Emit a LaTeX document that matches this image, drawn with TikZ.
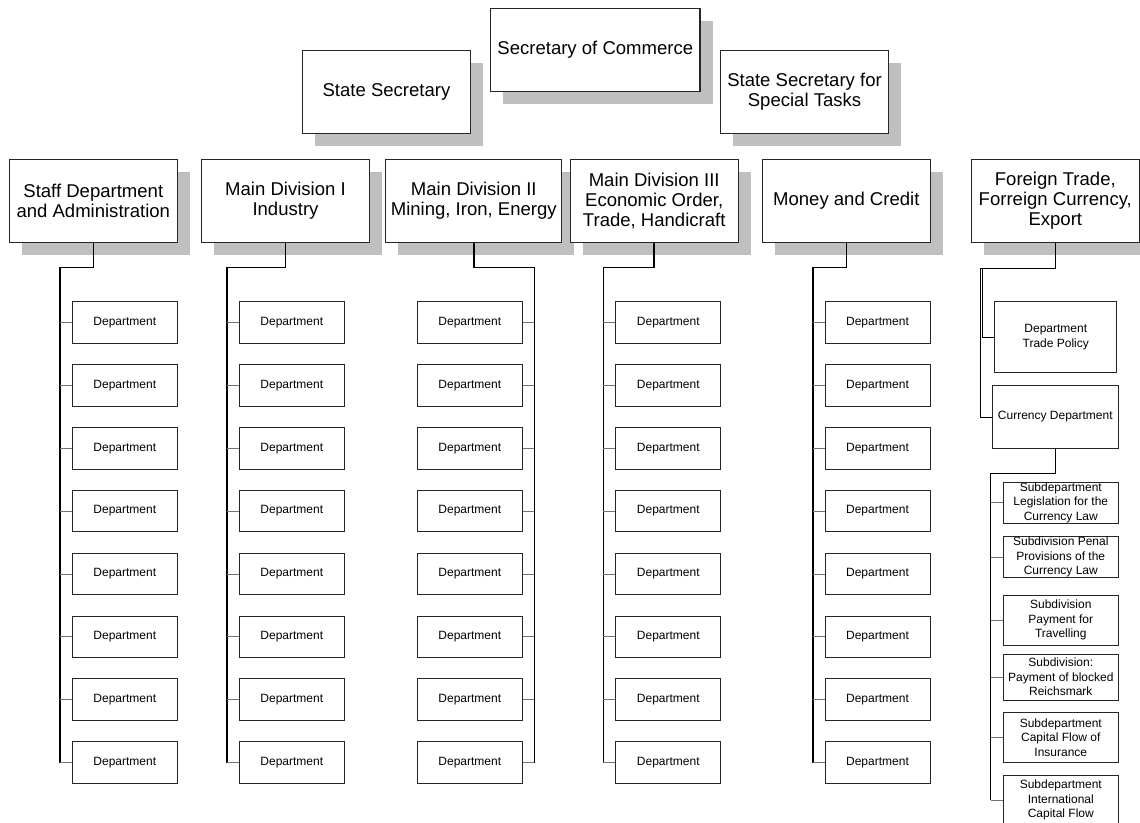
\documentclass[tikz,border=0pt]{standalone}
\usepackage{fontspec}
\setmainfont{Liberation Sans}
\usetikzlibrary{shadows}
\tikzset{
  bigbox/.style={draw=black!85, line width=0.8pt, fill=white, align=center, inner sep=0pt,
    minimum width=126pt, minimum height=62.5pt, font=\fontsize{13.9}{15}\selectfont,
    drop shadow={shadow xshift=9.4pt, shadow yshift=-9.4pt, fill=black!25, draw=none, opacity=1}},
  deptbox/.style={draw=black!85, line width=0.7pt, fill=white, align=center, inner sep=0pt,
    minimum width=78.75pt, minimum height=31.2pt, font=\fontsize{9}{10.9}\selectfont},
  subbox/.style={deptbox, minimum width=86.25pt},
  link/.style={line width=1.1pt},
  thinlink/.style={line width=0.6pt},
  tick/.style={line width=0.6pt, black!55},
}
\begin{document}
\begin{tikzpicture}[x=0.75pt, y=-0.75pt]
  \useasboundingbox (0,0) rectangle (1140,822);
  % top row, no lines between them
  \node[bigbox] (statesec) at (386.5,92) {State Secretary};
  \node[bigbox, minimum width=157pt] (secretary) at (595.3,50) {Secretary of Commerce};
  \node[bigbox] (specialsec) at (804.5,92) {State Secretary for\\Special Tasks};
  % divisions
  \node[bigbox] (staff) at (93.3,201) {Staff Department\\and Administration};
  \node[bigbox] (mdone) at (285.5,201) {Main Division I\\Industry};
  \node[bigbox, minimum width=132pt] (mdtwo) at (473.8,201) {Main Division II\\Mining, Iron, Energy};
  \node[bigbox] (mdthree) at (654.2,201) {Main Division III\\Economic Order,\\Trade, Handicraft};
  \node[bigbox] (money) at (846.3,201) {Money and Credit};
  \node[bigbox] (foreign) at (1055.3,201) {Foreign Trade,\\Forreign Currency,\\Export};
  % eight departments under each division; Main Division II has its spine on the right
  \foreach \col/\bx/\sx/\side in {staff/124.8/59.8/west, mdone/291.8/227.2/west,
      mdtwo/469.8/534.3/east, mdthree/668.3/603.3/west, money/877.5/812.9/west} {
    \coordinate (\col-bend) at (\sx,267.7);
    \foreach \k in {1,...,8}
      \node[deptbox] (\col-\k) at (\bx,{322.5+(\k-1)*62.857}) {Department};
    \draw[link] (\col.south) |- (\col-bend) -- (\col-bend |- \col-8.\side);
    \foreach \k in {1,...,8}
      \draw[tick] (\col-bend |- \col-\k.\side) -- (\col-\k.\side);
  }
  % foreign trade: two thin lines side by side, as in the original
  \node[deptbox, minimum width=91.3pt, minimum height=53.25pt] (tradepol) at (1055.8,337.2) {Department\\Trade Policy};
  \node[deptbox, minimum width=94.5pt, minimum height=47pt] (currency) at (1055.3,417) {Currency Department};
  \coordinate (foreign-bend) at (980.7,268.3);
  \coordinate (foreign-bendin) at (982.7,268.3);
  \draw[thinlink] (foreign.south) |- (foreign-bend) |- (currency.west);
  \draw[thinlink] (foreign-bendin) |- (tradepol.west);
  % currency subdivisions
  \node[subbox, minimum height=31pt] (sub-1) at (1060.8,502.7) {Subdepartment\\Legislation for the\\Currency Law};
  \node[subbox, minimum height=30.75pt] (sub-2) at (1060.8,557.2) {Subdivision Penal\\Provisions of the\\Currency Law};
  \node[subbox, minimum height=37.5pt] (sub-3) at (1060.8,620) {Subdivision\\Payment for\\Travelling};
  \node[subbox, minimum height=34.5pt] (sub-4) at (1060.8,677) {Subdivision:\\Payment of blocked\\Reichsmark};
  \node[subbox, minimum height=37.5pt] (sub-5) at (1060.8,737.7) {Subdepartment\\Capital Flow of\\Insurance};
  \node[subbox, minimum height=37.5pt] (sub-6) at (1060.8,800) {Subdepartment\\International\\Capital Flow};
  \coordinate (currency-bend) at (990.7,473.3);
  \draw[link] (currency.south) |- (currency-bend) -- (currency-bend |- sub-6.west);
  \foreach \k in {1,...,6}
    \draw[tick] (currency-bend |- sub-\k.west) -- (sub-\k.west);
\end{tikzpicture}
\end{document}
